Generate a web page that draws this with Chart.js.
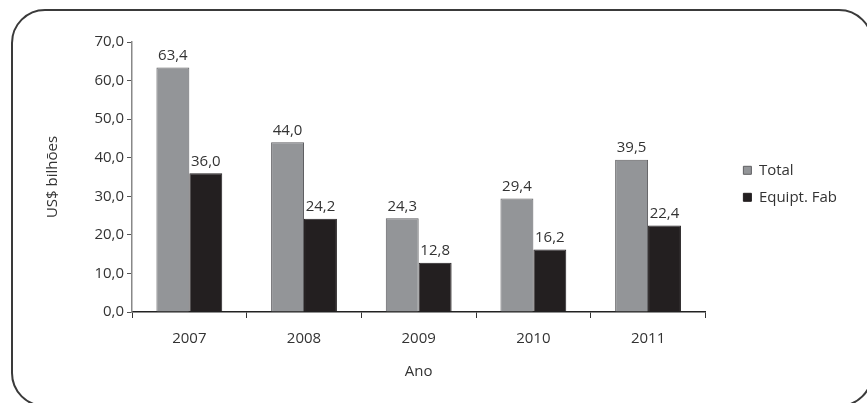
<!DOCTYPE html>
<html>
<head>
<meta charset="utf-8">
<script src="https://cdn.jsdelivr.net/npm/chart.js@4/dist/chart.umd.min.js"></script>
<style>
  html, body { margin: 0; padding: 0; background: #fff; overflow: hidden; }
  #wrap { position: relative; width: 867px; height: 403px; }
  #frame {
    position: absolute; left: 11px; top: 9px; width: 862px; height: 398px;
    border: 2px solid #3a3a3a; border-radius: 34px; box-sizing: border-box;
  }
  canvas { position: absolute; left: 0; top: 0; }
</style>
</head>
<body>
<div id="wrap">
  <div id="frame"></div>
  <canvas id="myChart" width="867" height="403"></canvas>
</div>
<script>
const anos = ["2007", "2008", "2009", "2010", "2011"];
const total = [63.4, 44.0, 24.3, 29.4, 39.5];
const equiptFab = [36.0, 24.2, 12.8, 16.2, 22.4];
const yTicks = [0, 10, 20, 30, 40, 50, 60, 70];

const fonte = "'Open Sans', Lato, sans-serif";
const tam = 15;
const fmt = (v) => Number(v).toFixed(1).replace(".", ",");

// escreve o valor acima de cada barra
const rotulos = {
  id: "rotulos",
  afterDatasetsDraw(chart) {
    const ctx = chart.ctx;
    ctx.save();
    ctx.font = tam + "px " + fonte;
    ctx.fillStyle = "#333";
    ctx.textAlign = "center";
    ctx.textBaseline = "bottom";
    chart.data.datasets.forEach((ds, i) => {
      chart.getDatasetMeta(i).data.forEach((bar, j) => {
        ctx.fillText(fmt(ds.data[j]), bar.x, bar.y - 4);
      });
    });
    ctx.restore();
  },
};

const ctx = document.getElementById("myChart");
new Chart(ctx, {
  type: "bar",
  data: {
    labels: anos,
    datasets: [
      {
        label: "Total",
        data: total,
        backgroundColor: "#939598",
        borderColor: "#5f5f62",
        borderWidth: 1,
      },
      {
        label: "Equipt. Fab",
        data: equiptFab,
        backgroundColor: "#231f20",
        borderColor: "#231f20",
        borderWidth: 1,
      },
    ],
  },
  options: {
    responsive: false,
    animation: false,
    layout: { padding: { left: 40, top: 42, right: 20, bottom: 0 } },
    datasets: { bar: { barPercentage: 1, categoryPercentage: 0.574 } },
    plugins: {
      tooltip: { enabled: false },
      legend: {
        position: "right",
        fullSize: false,
        // título vazio só para descer um pouco os itens
        title: { display: true, text: " ", font: { size: 8 }, padding: 2 },
        labels: {
          boxWidth: 8,
          boxHeight: 8,
          padding: 12,
          color: "#333",
          font: { family: fonte, size: tam },
        },
      },
    },
    scales: {
      x: {
        offset: true,
        grid: { display: true, offset: true, drawOnChartArea: false, tickLength: 6, color: "#333" },
        border: { display: true, color: "#222", width: 1.5 },
        ticks: { color: "#333", padding: 12, font: { family: fonte, size: tam } },
        title: { display: true, text: "Ano", color: "#333", padding: { top: 4, bottom: 22 }, font: { family: fonte, size: tam } },
        afterFit: (s) => { s.height = 91; },
      },
      y: {
        min: 0,
        max: 70,
        afterBuildTicks: (s) => { s.ticks = yTicks.map((v) => ({ value: v })); },
        grid: { display: true, drawOnChartArea: false, tickLength: 5, color: "#555" },
        border: { display: true, color: "#888", width: 1.5 },
        ticks: { color: "#333", padding: 3, font: { family: fonte, size: tam }, callback: (v) => fmt(v) },
        title: { display: true, text: "US$ bilhões", color: "#333", padding: { top: 4, bottom: 4 }, font: { family: fonte, size: tam } },
        afterFit: (s) => { s.width = 92; },
      },
      // espaço vazio entre o eixo x e a legenda
      folga: {
        type: "linear",
        position: "right",
        display: true,
        grid: { display: false },
        border: { display: false },
        ticks: { display: false },
        afterFit: (s) => { s.width = 26; },
      },
    },
  },
  plugins: [rotulos],
});
</script>
</body>
</html>
